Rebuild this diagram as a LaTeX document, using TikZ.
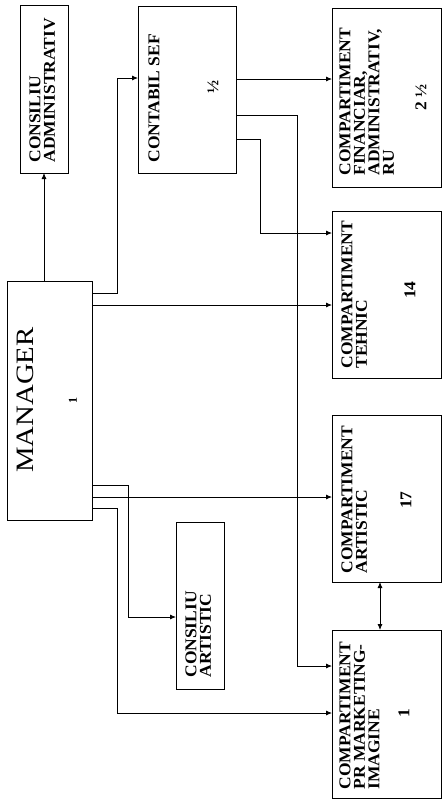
\documentclass[tikz,border=0pt]{standalone}
\usepackage{fontspec}
\setmainfont{Liberation Serif}
\newfontfamily\boxfont{Liberation Serif}[FakeStretch=1.06]
\newfontfamily\manfont{Liberation Serif}[FakeStretch=1.15]
\usetikzlibrary{arrows.meta}
\begin{document}
\begin{tikzpicture}[x=1pt,y=-1pt,line width=0.8pt,
  box/.style={draw,rectangle,inner sep=0pt,outer sep=0pt},
  lbl/.style={rotate=90,anchor=north west,inner sep=0pt,align=left,
    font=\boxfont\fontsize{16.5}{14.5}\selectfont\bfseries},
  num/.style={rotate=90,inner sep=0pt,font=\boxfont\fontsize{16.5}{15}\selectfont\bfseries},
  arr/.style={-{Latex[length=6pt,width=5pt]}},
  darr/.style={{Latex[length=6pt,width=5pt]}-{Latex[length=6pt,width=5pt]}}]
\useasboundingbox (0,0) rectangle (443,806);
% boxes
\node[box,minimum width=48pt,minimum height=168pt] (ca) at (44,89) {};
\node[box,minimum width=98pt,minimum height=167pt] (cs) at (187,89.5) {};
\node[box,minimum width=85pt,minimum height=239pt] (man) at (49.5,400.5) {};
\node[box,minimum width=48pt,minimum height=167pt] (cart) at (200,605.5) {};
\node[box,minimum width=109pt,minimum height=179pt] (fin) at (386.5,97.5) {};
\node[box,minimum width=109pt,minimum height=167pt] (teh) at (386.5,294.5) {};
\node[box,minimum width=109pt,minimum height=167pt] (art) at (386.5,498.5) {};
\node[box,minimum width=109pt,minimum height=168pt] (pr) at (386.5,714) {};
% labels
\node[lbl] (cat) at (29,163) {CONSILIU\\ADMINISTRATIV};
\node[lbl] (cst) at (148,163) {CONTABIL SEF};
\node[num] (csn) at (213,87) {½};
\node[rotate=90,inner sep=0pt,font=\manfont\fontsize{25}{25}\selectfont] (mant) at (25,400) {MANAGER};
\node[rotate=90,inner sep=0pt,font=\fontsize{12}{12}\selectfont\bfseries] (mann) at (73,400) {1};
\node[lbl] (cartt) at (185,678) {CONSILIU\\ARTISTIC};
\node[lbl] (fint) at (339,176) {COMPARTIMENT\\FINANCIAR,\\ADMINISTRATIV,\\RU};
\node[num] (finn) at (421,97) {2 ½};
\node[lbl] (teht) at (341,369) {COMPARTIMENT\\TEHNIC};
\node[num] (tehn) at (410,290) {14};
\node[lbl] (artt) at (341,574) {COMPARTIMENT\\ARTISTIC};
\node[num] (artn) at (406,500) {17};
\node[lbl] (prt) at (339,790) {COMPARTIMENT\\PR MARKETING-\\IMAGINE};
\node[num] (prn) at (404,713) {1};
% helper coordinates
\coordinate (a1) at (117,293);
\coordinate (a2) at (117,78);
\coordinate (t1) at (200,305);
\coordinate (f1) at (280,79);
\coordinate (p1) at (297,115);
\coordinate (p2) at (297,666);
\coordinate (q1) at (260,139);
\coordinate (q2) at (260,233);
\coordinate (r1) at (128,485);
\coordinate (r2) at (128,617);
\coordinate (s1) at (200,497);
\coordinate (u1) at (117,508);
\coordinate (u2) at (117,713);
\coordinate (v1) at (380,600);
% connectors
\draw[arr] (ca.south |- man.north) -- (ca.south);
\draw[arr] (man.east |- a1) -- (a1) -- (a2) -- (cs.west |- a2);
\draw[arr] (man.east |- t1) -- (teh.west |- t1);
\draw[arr] (cs.east |- f1) -- (fin.west |- f1);
\draw[arr] (cs.east |- p1) -- (p1) -- (p2) -- (pr.west |- p2);
\draw[arr] (cs.east |- q1) -- (q1) -- (q2) -- (teh.west |- q2);
\draw[arr] (man.east |- r1) -- (r1) -- (r2) -- (cart.west |- r2);
\draw[arr] (man.east |- s1) -- (art.west |- s1);
\draw[arr] (man.east |- u1) -- (u1) -- (u2) -- (pr.west |- u2);
\draw[darr] (art.south -| v1) -- (pr.north -| v1);
\end{tikzpicture}
\end{document}
